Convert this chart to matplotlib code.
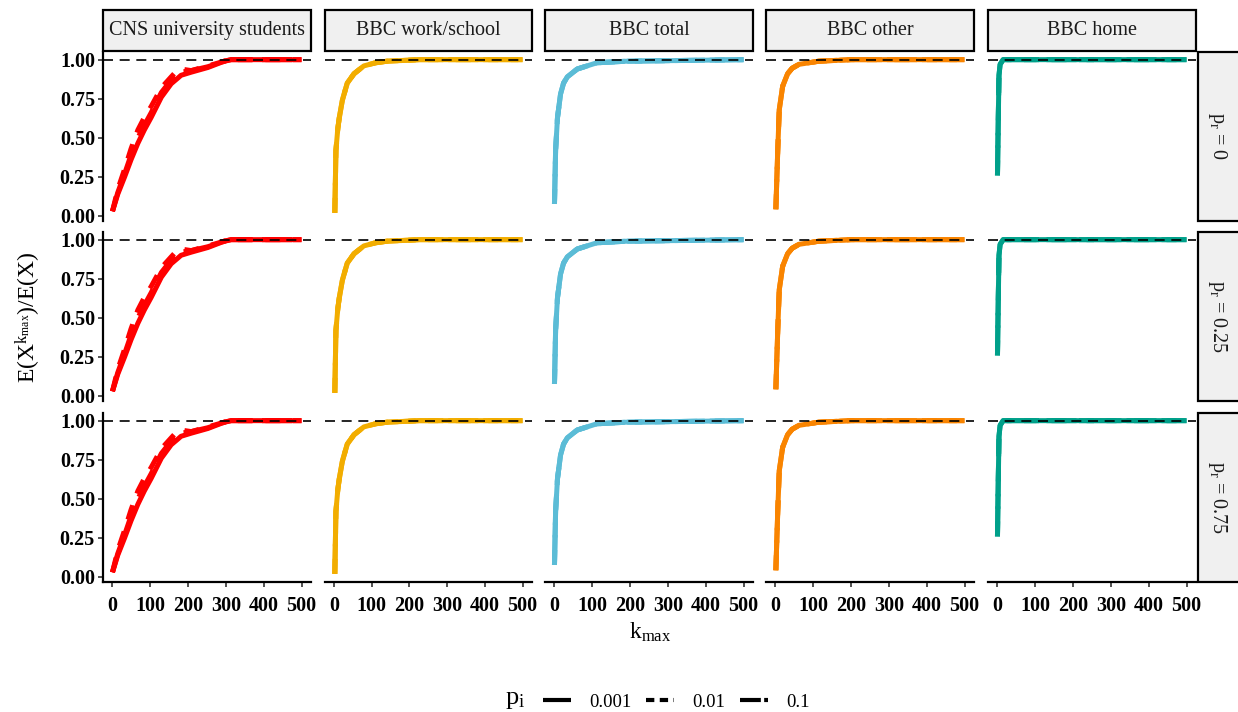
import matplotlib
matplotlib.use("Agg")
import matplotlib.pyplot as plt
from matplotlib.lines import Line2D
from matplotlib.patches import Rectangle

plt.rcParams['font.family'] = ['Liberation Serif', 'DejaVu Serif']
plt.rcParams['mathtext.fontset'] = 'custom'
plt.rcParams['mathtext.rm'] = 'Liberation Serif'
plt.rcParams['mathtext.it'] = 'Liberation Serif'

# facets
datasets = ["CNS university students", "BBC work/school", "BBC total", "BBC other", "BBC home"]
pr_labels = ["0", "0.25", "0.75"]
pi_labels = ["0.001", "0.01", "0.1"]
colors = ["#FF0000", "#F2AD00", "#5BBCD6", "#F98400", "#00A08A"]

# values (same in every p_r row)
k_cns = [1, 15, 33, 50, 68, 85, 103, 130, 156, 175, 182, 209, 253, 296, 314, 400, 500]
cns_p001 = [0.03, 0.14, 0.25, 0.36, 0.465, 0.55, 0.63, 0.76, 0.846, 0.885, 0.90, 0.92, 0.95, 0.99, 1.0, 1.0, 1.0]
cns_p01 = [0.03, 0.17, 0.30, 0.43, 0.55, 0.63, 0.70, 0.82, 0.89, 0.94, 0.94, 0.93, 0.96, 0.99, 1.0, 1.0, 1.0]
cns_p1 = [0.03, 0.15, 0.27, 0.39, 0.50, 0.58, 0.66, 0.79, 0.87, 0.91, 0.92, 0.93, 0.955, 0.99, 1.0, 1.0, 1.0]

k_work = [2, 5, 10, 14, 22, 35, 53, 79, 110, 140, 227, 500]
work_vals = [0.02, 0.42, 0.56, 0.63, 0.74, 0.85, 0.91, 0.96, 0.98, 0.99, 1.0, 1.0]

k_total = [1, 4, 9, 17, 25, 35, 61, 113, 190, 500]
total_vals = [0.077, 0.42, 0.63, 0.78, 0.85, 0.89, 0.94, 0.98, 0.99, 1.0]

k_other = [2, 7, 11, 20, 33, 45, 63, 115, 200, 500]
other_vals = [0.043, 0.42, 0.68, 0.83, 0.91, 0.945, 0.97, 0.99, 1.0, 1.0]

k_home = [1, 3, 5, 8, 16, 500]
home_vals = [0.26, 0.6, 0.9, 0.97, 1.0, 1.0]

curves = [
    (k_cns, [cns_p001, cns_p01, cns_p1]),
    (k_work, [work_vals, work_vals, work_vals]),
    (k_total, [total_vals, total_vals, total_vals]),
    (k_other, [other_vals, other_vals, other_vals]),
    (k_home, [home_vals, home_vals, home_vals]),
]
styles = [dict(linestyle="-"), dict(dashes=(3, 2.5)), dict(dashes=(6, 2))]
key_styles = [dict(linestyle="-"), dict(dashes=(2.0, 1.3)), dict(dashes=(5.0, 0.8))]

W, H = 1238, 712
fig = plt.figure(figsize=(W / 100, H / 100), dpi=100)


def box(x0, y0, x1, y1):
    return [x0 / W, 1 - y1 / H, (x1 - x0) / W, (y1 - y0) / H]


col_x = [(103, 311), (325, 532), (545, 753), (766, 974), (988, 1196)]
row_y = [(52, 221), (232, 401), (413, 582)]

for r, (y0, y1) in enumerate(row_y):
    for c, (x0, x1) in enumerate(col_x):
        ax = fig.add_axes(box(x0, y0, x1, y1))
        ks, series = curves[c]
        for vals, st in zip(series, styles):
            ax.plot(ks, vals, color=colors[c], lw=3.6, solid_capstyle="butt",
                    dash_capstyle="butt", **st)
        ax.axhline(1.0, color="black", lw=1.2, dashes=(6, 4), zorder=5)
        ax.set_xlim(-24, 525)
        ax.set_ylim(-0.032, 1.049)
        for s in ax.spines.values():
            s.set_visible(False)
        ax.spines["left"].set_linewidth(1.6)
        ax.spines["bottom"].set_linewidth(1.6)
        ax.set_xticks([0, 100, 200, 300, 400, 500])
        ax.set_yticks([0, 0.25, 0.5, 0.75, 1.0])
        ax.tick_params(length=3.8, width=1.2, color="#333333", labelsize=14.5)
        ax.tick_params(axis="x", pad=6)
        ax.tick_params(axis="y", pad=2)
        if c == 0:
            ax.spines["left"].set_visible(True)
            ax.set_yticklabels(["0.00", "0.25", "0.50", "0.75", "1.00"], fontweight="bold")
        else:
            ax.tick_params(left=False, labelleft=False)
        if r == 2:
            ax.spines["bottom"].set_visible(True)
            ax.set_xticklabels(["0", "100", "200", "300", "400", "500"], fontweight="bold")
        else:
            ax.tick_params(bottom=False, labelbottom=False)
        ax.patch.set_alpha(0)

# top strips
for c, (x0, x1) in enumerate(col_x):
    b = box(x0, 10, x1, 51)
    fig.patches.append(Rectangle((b[0], b[1]), b[2], b[3], transform=fig.transFigure,
                                 facecolor="#F0F0F0", edgecolor="black", lw=1.6))
    fig.text(b[0] + b[2] / 2, b[1] + b[3] / 2, datasets[c], ha="center", va="center",
             fontsize=14.5, color="#1A1A1A")

# right strips
for r, (y0, y1) in enumerate(row_y):
    b = box(1198, y0, 1250, y1)
    fig.patches.append(Rectangle((b[0], b[1]), b[2], b[3], transform=fig.transFigure,
                                 facecolor="#F0F0F0", edgecolor="black", lw=1.6))
    fig.text(1218 / W, b[1] + b[3] / 2, r"$\mathrm{p_r}$ = " + pr_labels[r], ha="center",
             va="center", rotation=-90, fontsize=14.5, color="#1A1A1A")

fig.text(28 / W, 1 - 317 / H, r"$\mathrm{E(X^{k_{max}})/E(X)}$", rotation=90,
         ha="center", va="center", fontsize=17)
fig.text(650 / W, 1 - 632 / H, r"$\mathrm{k_{max}}$", ha="center", va="center", fontsize=17)

# legend
fig.text(515 / W, 1 - 700 / H, r"$\mathrm{p_i}$", ha="center", va="center", fontsize=19)
handles = [Line2D([], [], color="black", lw=3.0, solid_capstyle="butt",
                  dash_capstyle="butt", **st) for st in key_styles]
fig.legend(handles, pi_labels, loc="center left", bbox_to_anchor=(526 / W, 1 - 702 / H),
           ncol=3, frameon=False, handlelength=1.5, handletextpad=0.95,
           columnspacing=0.8, fontsize=13.5)

fig.savefig("out.png", dpi=100)
